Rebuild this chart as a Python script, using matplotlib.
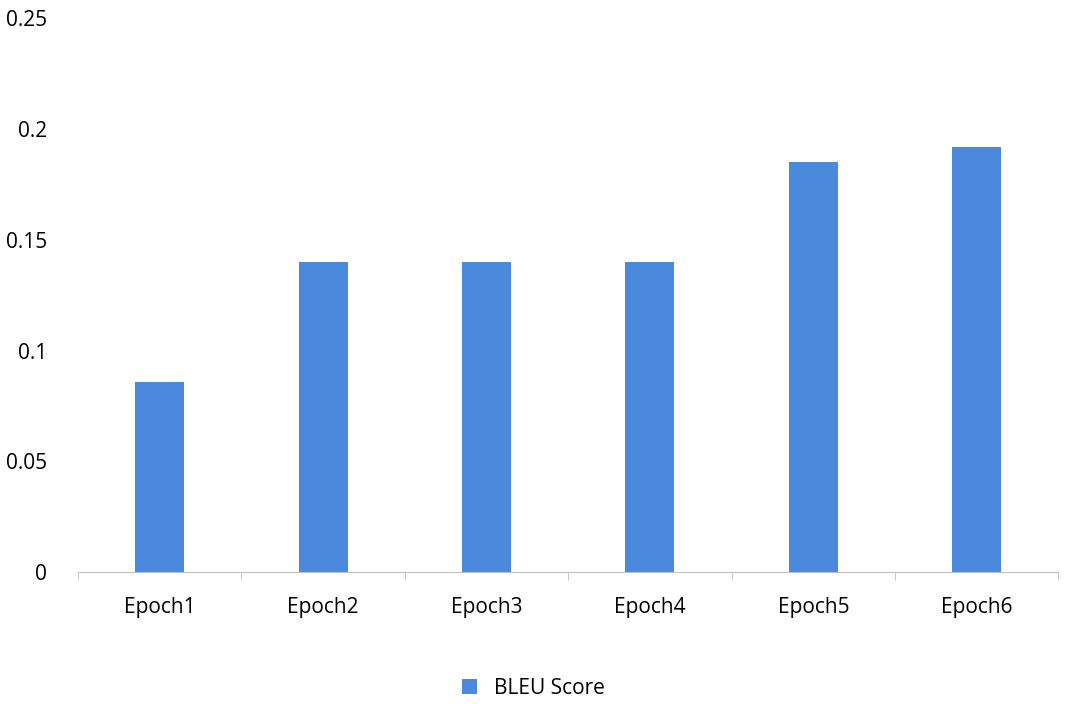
import matplotlib
matplotlib.use("Agg")
import matplotlib.pyplot as plt
import numpy as np

categories = ["Epoch1", "Epoch2", "Epoch3", "Epoch4", "Epoch5", "Epoch6"]
bleu = [0.086, 0.140, 0.140, 0.140, 0.185, 0.192]
yticks = [0, 0.05, 0.1, 0.15, 0.2, 0.25]
ytick_labels = ["0", "0.05", "0.1", "0.15", "0.2", "0.25"]

plt.rcParams['font.family'] = ['Open Sans', 'DejaVu Sans']
fig = plt.figure(figsize=(10.67, 7.04), dpi=100)
ax = fig.add_axes([0.073, 0.1875, 0.919, 0.7865])
x = np.arange(len(categories))
ax.bar(x, bleu, width=0.3, color="#4a89dc", label="BLEU Score")
ax.set_xlim(-0.5, len(categories) - 0.5)
ax.set_ylim(0, 0.25)
ax.set_yticks(yticks)
ax.set_yticklabels(ytick_labels, fontsize=15)
ax.set_xticks(x)
ax.set_xticklabels(categories, fontsize=15)
ax.tick_params(axis='y', length=0, pad=22)
ax.tick_params(axis='x', length=0, pad=18)
ax.set_xticks(np.arange(-0.5, len(categories), 1), minor=True)
ax.tick_params(axis='x', which='minor', length=6, color="#bfbfbf")
for s in ["top", "right", "left"]:
    ax.spines[s].set_visible(False)
ax.spines["bottom"].set_color("#bfbfbf")
fig.legend(loc="center", bbox_to_anchor=(0.5, 0.022), frameon=False, fontsize=15,
           handlelength=0.7, handleheight=0.7)
fig.savefig("out.png", dpi=100)
